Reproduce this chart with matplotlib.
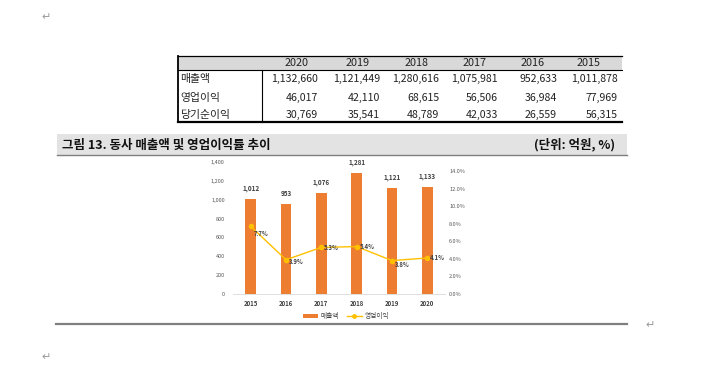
"""
Recreation of a report page: summary table + 매출액 / 영업이익률 chart.
"""
import matplotlib
matplotlib.use("Agg")
import matplotlib.pyplot as plt
from matplotlib.lines import Line2D
from matplotlib.patches import Patch, Rectangle
import numpy as np

plt.rcParams['font.family'] = ['Noto Sans CJK KR', 'DejaVu Sans']

# data - table
table_years = ["2020", "2019", "2018", "2017", "2016", "2015"]
row_names = ["매출액", "영업이익", "당기순이익"]
revenue_row = ["1,132,660", "1,121,449", "1,280,616", "1,075,981", "952,633", "1,011,878"]
op_profit_row = ["46,017", "42,110", "68,615", "56,506", "36,984", "77,969"]
net_income_row = ["30,769", "35,541", "48,789", "42,033", "26,559", "56,315"]

# data - chart
chart_years = ["2015", "2016", "2017", "2018", "2019", "2020"]
revenue = [1012, 953, 1076, 1281, 1121, 1133]
op_margin = [7.7, 3.9, 5.3, 5.4, 3.8, 4.1]

title_text = "그림 13. 동사 매출액 및 영업이익률 추이"
unit_text = "(단위: 억원, %)"

W, H = 715, 365
fig = plt.figure(figsize=(W/100, H/100), dpi=100)

# background layer in pixel coordinates
bg = fig.add_axes([0, 0, 1, 1])
bg.set_xlim(0, W)
bg.set_ylim(H, 0)
bg.axis("off")

# table
tx0, tx1, tdiv = 178, 622, 262
ty_top, ty_head, ty_bot = 56, 70, 122
bg.add_patch(Rectangle((tx0, ty_top), tx1 - tx0, ty_head - ty_top,
                       facecolor="#d9d9d9", edgecolor="none"))
bg.plot([tx0, tx1], [ty_top, ty_top], color="black", lw=0.9)
bg.plot([tx0, tx1], [ty_head, ty_head], color="black", lw=0.8)
bg.plot([tx0, tx1], [ty_bot, ty_bot], color="black", lw=1.6)
bg.plot([tx0, tx0], [ty_top, ty_bot], color="black", lw=1.3)
bg.plot([tdiv, tdiv], [ty_head, ty_bot], color="black", lw=0.8)

head_x = [297, 358, 417, 475, 533, 589]
num_right = [318, 380, 439, 498, 557, 618]
row_y = [79, 98, 115]
for x, yr in zip(head_x, table_years):
    bg.text(x, 63, yr, ha="center", va="center", fontsize=7.8, color="#222222")
for y, name, vals in zip(row_y, row_names, [revenue_row, op_profit_row, net_income_row]):
    bg.text(tx0 + 2, y, name, ha="left", va="center", fontsize=7.8, color="#222222")
    for x, v in zip(num_right, vals):
        bg.text(x, y, v, ha="right", va="center", fontsize=7.6, color="#222222")

# title band
bg.add_patch(Rectangle((57, 134), 570, 21, facecolor="#e3e3e3", edgecolor="none"))
bg.plot([57, 627], [155, 155], color="#7f7f7f", lw=1.0)
bg.text(62, 145, title_text, ha="left", va="center", fontsize=9,
        fontweight="bold", color="#111111")
bg.text(615, 145, unit_text, ha="right", va="center", fontsize=9,
        fontweight="bold", color="#111111")

# bottom rule
bg.plot([56, 627], [324, 324], color="#7f7f7f", lw=1.6)

# return marks
for x, y in [(46, 17), (46, 357), (650, 325)]:
    bg.text(x, y, "\u21b5", ha="center", va="center", fontsize=8,
            color="#9a9a9a", family=["DejaVu Sans"])

# chart
ax = fig.add_axes([233/W, (H - 294)/H, 212/W, 132/H])
x = np.arange(len(chart_years))
ax.bar(x, revenue, width=0.31, color="#ED7D31", zorder=2)
ax.set_xlim(-0.5, len(chart_years) - 0.5)
ax.set_ylim(0, 1400)
ax.set_yticks(np.arange(0, 1401, 200))
ax.set_yticklabels([f"{v:,}" for v in range(0, 1401, 200)])
ax.set_xticks(x)
ax.set_xticklabels(chart_years, fontweight="bold")
for side in ["top", "right", "left"]:
    ax.spines[side].set_visible(False)
ax.spines["bottom"].set_color("#d9d9d9")
ax.spines["bottom"].set_linewidth(0.6)
ax.tick_params(axis="y", length=0, labelsize=4, labelcolor="#595959", pad=6)
ax.tick_params(axis="x", length=0, labelsize=4.3, labelcolor="#404040", pad=4)
for xi, v in zip(x, revenue):
    ax.annotate(f"{v:,}", (xi, v), xytext=(0, 5), textcoords="offset points",
                ha="center", va="bottom", fontsize=4.6, fontweight="bold",
                color="#404040")

ax2 = ax.twinx()
ax2.plot(x, op_margin, color="#FFC000", lw=1.0, marker="o", markersize=3, zorder=3)
ax2.set_ylim(0, 15.02)
ax2.set_yticks(np.arange(0, 14.1, 2))
ax2.set_yticklabels([f"{v:.1f}%" for v in np.arange(0, 14.1, 2)])
ax2.tick_params(axis="y", length=0, labelsize=4, labelcolor="#595959", pad=3)
for side in ["top", "right", "left", "bottom"]:
    ax2.spines[side].set_visible(False)
label_offsets = [(2, -5), (2, -1), (2, 0), (2, 0), (2, -3), (2, 0)]
for xi, v, off in zip(x, op_margin, label_offsets):
    ax2.annotate(f"{v:.1f}%", (xi, v), xytext=off, textcoords="offset points",
                 ha="left", va="center", fontsize=4.3, fontweight="bold",
                 color="#404040")

handles = [Patch(facecolor="#ED7D31", edgecolor="none", label="매출액"),
           Line2D([], [], color="#FFC000", lw=1.0, marker="o", markersize=2.5,
                  label="영업이익")]
fig.legend(handles=handles, loc="center", bbox_to_anchor=(346/W, 1 - 316/H),
           ncol=2, frameon=False, fontsize=4.8, handlelength=2.2,
           handleheight=0.5, columnspacing=1.2, handletextpad=0.4,
           labelcolor="#404040")

fig.savefig("out.png", dpi=100)
